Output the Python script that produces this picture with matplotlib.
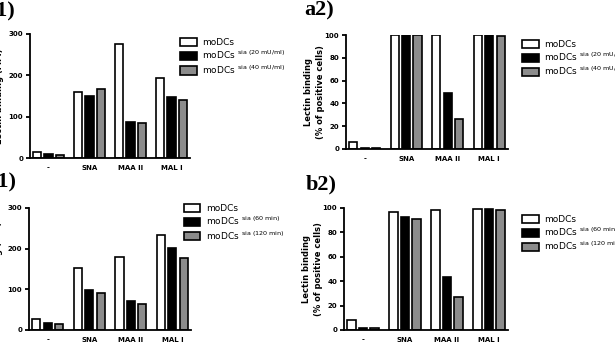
import matplotlib.pyplot as plt
import numpy as np

groups = ["-", "SNA", "MAA II", "MAL I"]

# a1: MFI, neuraminidase dose
a1_ctrl = [15, 160, 275, 193]
a1_s20 = [9, 150, 88, 148]
a1_s40 = [7, 167, 84, 141]
# a2: % positive cells, neuraminidase dose
a2_ctrl = [6, 100, 100, 100]
a2_s20 = [1, 100, 49, 100]
a2_s40 = [0.5, 100, 26, 99]
# b1: MFI, incubation time
b1_ctrl = [27, 153, 179, 233]
b1_s60 = [16, 98, 72, 201]
b1_s120 = [15, 91, 64, 178]
# b2: % positive cells, incubation time
b2_ctrl = [8, 96.5, 98, 99.5]
b2_s60 = [2, 92.5, 43.5, 99.5]
b2_s120 = [2, 91, 27, 98]

dose_labels = ["moDCs", r"moDCs $^{\mathrm{sia\ (20\ mU/ml)}}$", r"moDCs $^{\mathrm{sia\ (40\ mU/ml)}}$"]
time_labels = ["moDCs", r"moDCs $^{\mathrm{sia\ (60\ min)}}$", r"moDCs $^{\mathrm{sia\ (120\ min)}}$"]

colors = ["white", "black", "#8c8c8c"]

plt.rcParams['font.family'] = 'DejaVu Sans'
plt.rcParams['mathtext.fontset'] = 'dejavusans'

fig = plt.figure(figsize=(6.15, 3.53), dpi=100)


def panel(rect, series, labels, ymax, yticks, ylabel, leg_xy, tag, tag_xy):
    ax = fig.add_axes(rect)
    x = np.arange(len(groups))
    w = 0.2
    handles = []
    for i, vals in enumerate(series):
        b = ax.bar(x + (i - 1) * 0.275, vals, w, color=colors[i],
                   edgecolor="black", linewidth=1.2, label=labels[i])
        handles.append(b)
    ax.set_xlim(-0.45, 3.45)
    ax.set_ylim(0, ymax)
    ax.set_yticks(yticks)
    ax.set_xticks(x)
    ax.set_xticklabels(groups)
    for s in ["top", "right"]:
        ax.spines[s].set_visible(False)
    for s in ["left", "bottom"]:
        ax.spines[s].set_linewidth(1.3)
    ax.tick_params(axis="y", length=3, width=1.3, labelsize=5, pad=2)
    ax.tick_params(axis="x", length=0, labelsize=5, pad=5)
    for t in ax.get_xticklabels() + ax.get_yticklabels():
        t.set_fontweight("bold")
    ax.set_ylabel(ylabel, fontsize=6, fontweight="bold", linespacing=1.4)
    ax.legend(handles=handles, loc="upper left", bbox_to_anchor=leg_xy,
              bbox_transform=fig.transFigure, frameon=False, fontsize=6.5,
              handlelength=1.8, handleheight=1.0, labelspacing=0.2,
              borderpad=0, handletextpad=0.6)
    fig.text(tag_xy[0], tag_xy[1], tag, fontsize=16, fontweight="bold",
             family="Liberation Serif", va="top")
    return ax


ax1 = panel([0.0488, 0.5524, 0.2602, 0.3513], [a1_ctrl, a1_s20, a1_s40], dose_labels,
            300, [0, 100, 200, 300], "Lectin binding (MFI)", (0.286, 0.905), "a1)", (-0.024, 0.995))
ax1.yaxis.set_label_coords(-0.16, 0.5)

ax2 = panel([0.5626, 0.578, 0.2634, 0.3228], [a2_ctrl, a2_s20, a2_s40], dose_labels,
            100, [0, 20, 40, 60, 80, 100], "Lectin binding\n(% of positive cells)", (0.842, 0.90), "a2)", (0.495, 0.998))
ax2.yaxis.set_label_coords(-0.13, 0.5)

ax3 = panel([0.0472, 0.0652, 0.2634, 0.3456], [b1_ctrl, b1_s60, b1_s120], time_labels,
            300, [0, 100, 200, 300], "Lectin binding (MFI)", (0.292, 0.435), "b1)", (-0.024, 0.515))
ax3.yaxis.set_label_coords(-0.16, 0.5)

ax4 = panel([0.5593, 0.0652, 0.2667, 0.3456], [b2_ctrl, b2_s60, b2_s120], time_labels,
            100, [0, 20, 40, 60, 80, 100], "Lectin binding\n(% of positive cells)", (0.842, 0.405), "b2)", (0.497, 0.505))
ax4.yaxis.set_label_coords(-0.13, 0.5)

fig.savefig("out.png", dpi=100)
